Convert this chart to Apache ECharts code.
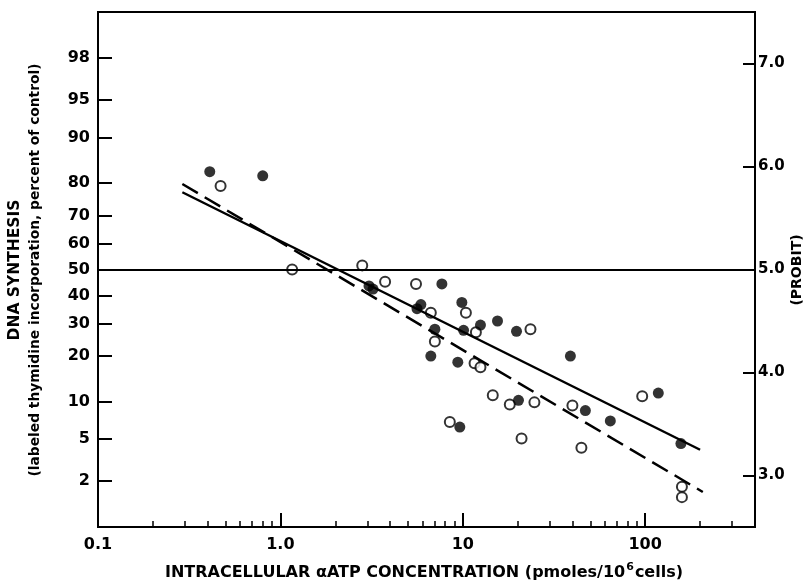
<!DOCTYPE html>
<html>
<head>
<meta charset="utf-8">
<script src="https://cdn.jsdelivr.net/npm/echarts@6/dist/echarts.min.js"></script>
<style>
  html, body { margin: 0; padding: 0; background: #fff; }
  #chart { width: 809px; height: 582px; }
</style>
</head>
<body>
<div id="chart"></div>
<script>
// x: intracellular aATP (pmoles/10^6 cells), log scale; y: probit units
var xMin = 0.1, xMax = 400
var xLabelVals = [0.1, 1, 10, 100]
var xLabelText = ['0.1', '1.0', '10', '100']
var xMajorTicks = [1, 10, 100]
var xMinorTicks = [0.2, 0.3, 0.4, 0.5, 0.6, 0.7, 0.8, 0.9, 2, 3, 4, 5, 6, 7, 8, 9,
  20, 30, 40, 50, 60, 70, 80, 90, 200, 300]
var percentTicks = [2, 5, 10, 20, 30, 40, 50, 60, 70, 80, 90, 95, 98]
var probitTicks = [3, 4, 5, 6, 7]

// filled circles
var filledX = [0.41, 0.80, 3.06, 3.22, 7.68, 9.88, 5.61, 5.89, 7.03, 10.1, 12.5, 15.5, 19.7,
  6.68, 9.39, 38.9, 9.63, 20.2, 47.0, 64.4, 118, 157]
var filledP = [5.95, 5.91, 4.84, 4.81, 4.86, 4.68, 4.62, 4.66, 4.42, 4.41, 4.46, 4.50, 4.40,
  4.16, 4.10, 4.16, 3.47, 3.73, 3.63, 3.53, 3.80, 3.31]
// open circles
var openX = [0.47, 1.16, 2.81, 3.75, 5.54, 6.68, 10.4, 7.03, 11.8, 11.6, 12.5, 23.5, 14.6,
  18.1, 24.7, 39.9, 96.3, 8.49, 21.0, 44.7, 159, 159]
var openP = [5.81, 5.00, 5.04, 4.88, 4.86, 4.58, 4.58, 4.30, 4.39, 4.09, 4.05, 4.42, 3.78,
  3.69, 3.71, 3.68, 3.77, 3.52, 3.36, 3.27, 2.89, 2.79]

// fitted lines (end points)
var solidX = [0.29, 200]
var solidP = [5.75, 3.25]
var dashX = [0.29, 207]
var dashP = [5.83, 2.84]

// inverse normal cdf (Acklam) -> probit = 5 + z
function probit(pct){
  var p = pct / 100
  var a = [-39.69683028665376, 220.9460984245205, -275.9285104469687, 138.3577518672690, -30.66479806614716, 2.506628277459239]
  var b = [-54.47609879822406, 161.5858368580409, -155.6989798598866, 66.80131188771720, -13.28068155288572]
  var c = [-0.007784894002430293, -0.3223964580411365, -2.400758277161838, -2.549732539343734, 4.374664141464968, 2.938163982698783]
  var d = [0.007784695709041462, 0.3224671290700398, 2.445134137142996, 3.754408661907416]
  var q, r, z
  if(p < 0.02425){
    q = Math.sqrt(-2 * Math.log(p))
    z = (((((c[0]*q+c[1])*q+c[2])*q+c[3])*q+c[4])*q+c[5]) / ((((d[0]*q+d[1])*q+d[2])*q+d[3])*q+1)
  } else if(p > 1 - 0.02425){
    q = Math.sqrt(-2 * Math.log(1 - p))
    z = -(((((c[0]*q+c[1])*q+c[2])*q+c[3])*q+c[4])*q+c[5]) / ((((d[0]*q+d[1])*q+d[2])*q+d[3])*q+1)
  } else {
    q = p - 0.5
    r = q * q
    z = (((((a[0]*r+a[1])*r+a[2])*r+a[3])*r+a[4])*r+a[5])*q / (((((b[0]*r+b[1])*r+b[2])*r+b[3])*r+b[4])*r+1)
  }
  return 5 + z
}

var pctPos = percentTicks.map(probit)
function pctLabel(v){
  for(var i = 0; i < pctPos.length; i++){
    if(Math.abs(pctPos[i] - v) < 1e-6) return String(percentTicks[i])
  }
  return ''
}
function xLabel(v){
  for(var i = 0; i < xLabelVals.length; i++){
    if(Math.abs(xLabelVals[i] - v) < 1e-9 * xLabelVals[i] + 1e-12) return xLabelText[i]
  }
  return ''
}
function pairs(xs, ys){
  return xs.map(function(x, i){ return [x, ys[i]] })
}

var FONT = 'DejaVu Sans'
var chart = echarts.init(document.getElementById('chart'), null, {renderer: 'canvas'})

var option = {
  backgroundColor: '#fff',
  animation: false,
  grid: {
    left: 98, right: 54, top: 12, bottom: 55,
    show: true, borderColor: '#000', borderWidth: 2, backgroundColor: 'transparent'
  },
  xAxis: [
    {
      type: 'log', logBase: 10, min: xMin, max: xMax, position: 'bottom',
      axisLine: {show: true, onZero: false, lineStyle: {color: '#000', width: 2}},
      axisTick: {show: true, inside: true, length: 14, customValues: xMajorTicks, lineStyle: {color: '#000', width: 2}},
      axisLabel: {
        show: true, customValues: xLabelVals, formatter: xLabel, margin: 10,
        color: '#000', fontFamily: FONT, fontWeight: 'bold', fontSize: 16
      },
      splitLine: {show: false}, minorTick: {show: false}
    },
    {
      type: 'log', logBase: 10, min: xMin, max: xMax, position: 'bottom',
      axisLine: {show: false},
      axisTick: {show: true, inside: true, length: 6, customValues: xMinorTicks, lineStyle: {color: '#000', width: 1.5}},
      axisLabel: {show: false},
      splitLine: {show: false}
    }
  ],
  yAxis: [
    {
      type: 'value', min: 2.5, max: 7.5, position: 'left',
      axisLine: {show: true, onZero: false, lineStyle: {color: '#000', width: 2}},
      axisTick: {show: true, inside: true, length: 14, customValues: pctPos, lineStyle: {color: '#000', width: 2}},
      axisLabel: {
        show: true, customValues: pctPos, formatter: pctLabel, margin: 8,
        color: '#000', fontFamily: FONT, fontWeight: 'bold', fontSize: 16
      },
      splitLine: {show: false}
    },
    {
      type: 'value', min: 2.5, max: 7.5, position: 'right',
      axisLine: {show: true, onZero: false, lineStyle: {color: '#000', width: 2}},
      axisTick: {show: true, inside: true, length: 12, customValues: probitTicks, lineStyle: {color: '#000', width: 2}},
      axisLabel: {
        show: true, customValues: probitTicks, margin: 3,
        formatter: function(v){ return v.toFixed(1) },
        color: '#000', fontFamily: FONT, fontWeight: 'bold', fontSize: 15
      },
      splitLine: {show: false}
    }
  ],
  series: [
    {
      name: 'solid fit', type: 'line', xAxisIndex: 0, yAxisIndex: 0,
      data: pairs(solidX, solidP), symbol: 'none', silent: true,
      lineStyle: {color: '#000', width: 2.5, type: 'solid'},
      markLine: {
        silent: true, symbol: ['none', 'none'], label: {show: false},
        lineStyle: {color: '#000', width: 2, type: 'solid'},
        data: [{yAxis: 5}]
      }
    },
    {
      name: 'dashed fit', type: 'line', xAxisIndex: 0, yAxisIndex: 0,
      data: pairs(dashX, dashP), symbol: 'none', silent: true,
      lineStyle: {color: '#000', width: 2.5, type: [18, 8]}
    },
    {
      name: 'open', type: 'scatter', xAxisIndex: 0, yAxisIndex: 0,
      data: pairs(openX, openP), symbol: 'circle', symbolSize: 10,
      itemStyle: {color: '#fff', borderColor: '#000', borderWidth: 2}
    },
    {
      name: 'filled', type: 'scatter', xAxisIndex: 0, yAxisIndex: 0,
      data: pairs(filledX, filledP), symbol: 'circle', symbolSize: 11,
      itemStyle: {color: '#000'}
    }
  ],
  graphic: [
    {
      type: 'text', x: 15, y: 270, rotation: Math.PI / 2,
      style: {text: 'DNA SYNTHESIS', font: 'bold 15.5px "DejaVu Sans"', fill: '#000',
        align: 'center', verticalAlign: 'middle', textAlign: 'center', textVerticalAlign: 'middle'}
    },
    {
      type: 'text', x: 35, y: 270, rotation: Math.PI / 2,
      style: {text: '(labeled thymidine incorporation, percent of control)', font: 'bold 13.8px "DejaVu Sans"', fill: '#000',
        align: 'center', verticalAlign: 'middle', textAlign: 'center', textVerticalAlign: 'middle'}
    },
    {
      type: 'text', x: 797, y: 270, rotation: Math.PI / 2,
      style: {text: '(PROBIT)', font: 'bold 14px "DejaVu Sans"', fill: '#000',
        align: 'center', verticalAlign: 'middle', textAlign: 'center', textVerticalAlign: 'middle'}
    },
    {
      type: 'text', x: 424, y: 571,
      style: {
        text: '{m|INTRACELLULAR \u03b1ATP CONCENTRATION (pmoles/10}{sup|6}{m|cells)}',
        font: 'bold 16px "DejaVu Sans"', fill: '#000',
        align: 'center', verticalAlign: 'middle', textAlign: 'center', textVerticalAlign: 'middle',
        rich: {
          m: {fontSize: 16, fontWeight: 'bold', fontFamily: FONT, fill: '#000', verticalAlign: 'bottom', lineHeight: 20},
          sup: {fontSize: 11, fontWeight: 'bold', fontFamily: FONT, fill: '#000', verticalAlign: 'bottom', padding: [0, 1, 8, 1]}
        }
      }
    }
  ]
}
chart.setOption(option)
</script>
</body>
</html>
